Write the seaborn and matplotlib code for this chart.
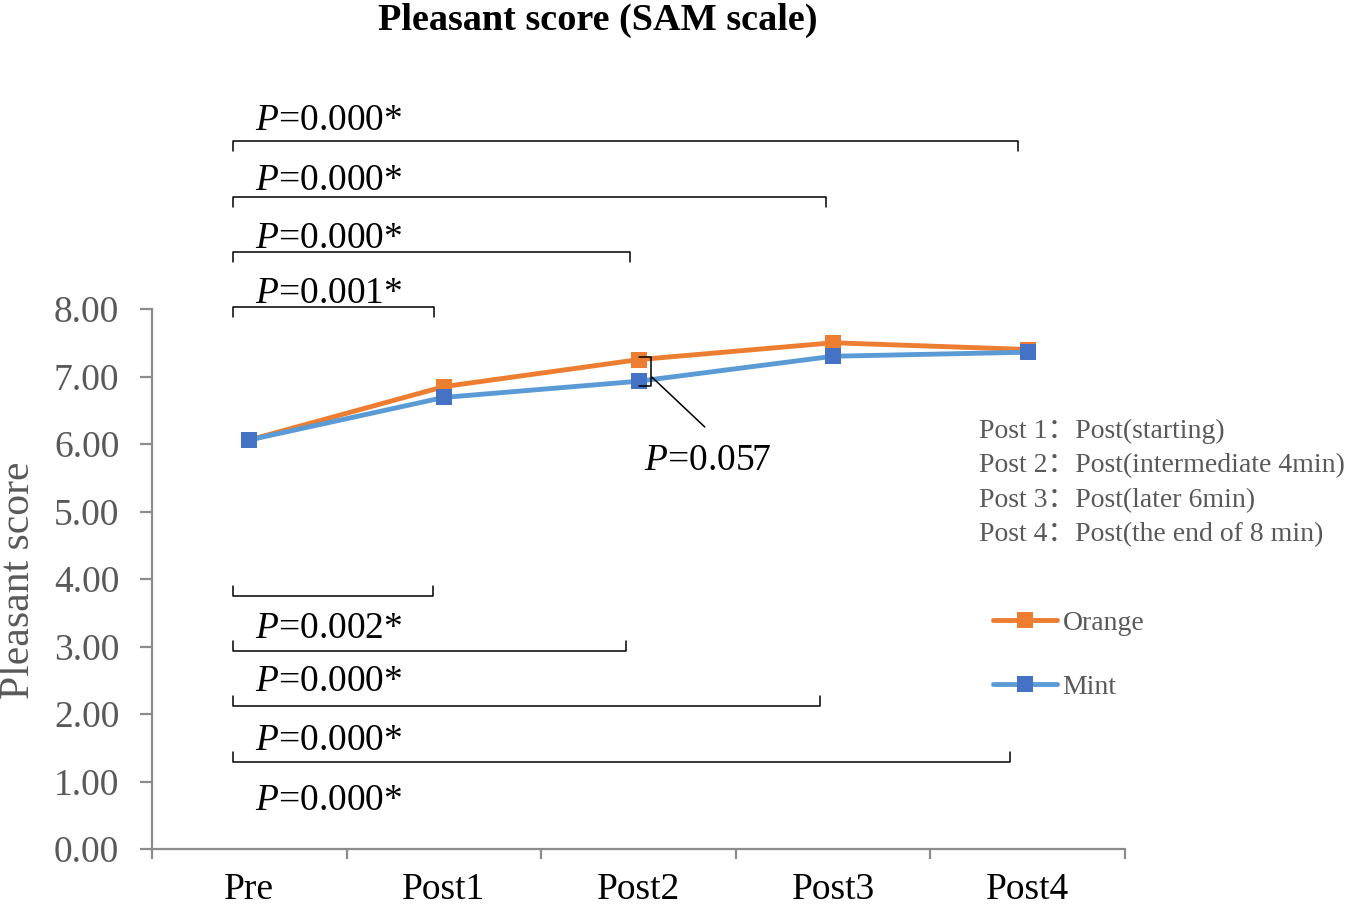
import numpy as np
import pandas as pd
import matplotlib
matplotlib.use("Agg")
import matplotlib.pyplot as plt
import seaborn as sns

# ---------------- data ----------------
time_points = ["Pre", "Post1", "Post2", "Post3", "Post4"]
orange_scores = [6.06, 6.85, 7.25, 7.50, 7.40]
mint_scores = [6.06, 6.69, 6.93, 7.30, 7.36]
y_ticks = [0, 1, 2, 3, 4, 5, 6, 7, 8]
y_tick_labels = ["0.00", "1.00", "2.00", "3.00", "4.00", "5.00", "6.00", "7.00", "8.00"]
orange_p_labels = ["0.001*", "0.000*", "0.000*", "0.000*"]   # Pre vs Post1..Post4 (upper)
mint_p_labels = ["0.002*", "0.000*", "0.000*", "0.000*"]     # Pre vs Post1..Post4 (lower)
between_p_label = "0.057"
note_labels = ["Post 1：Post(starting)",
               "Post 2：Post(intermediate 4min)",
               "Post 3：Post(later 6min)",
               "Post 4：Post(the end of 8 min)"]
title_text = "Pleasant score (SAM scale)"
y_label = "Pleasant score"

# ---------------- style ----------------
sns.set_style("white")
plt.rcParams["font.family"] = ["Liberation Serif", "Noto Sans CJK SC", "DejaVu Sans"]
plt.rcParams["mathtext.fontset"] = "custom"
plt.rcParams["mathtext.rm"] = "Liberation Serif"
plt.rcParams["mathtext.it"] = "Liberation Serif:italic"

ORANGE = "#ED7D31"
MINT_LINE = "#5B9BD5"
MINT_MARK = "#4472C4"
GRAY_AX = "#8C8C8C"
GRAY_TXT = "#595959"

W, H = 1355, 909
fig = plt.figure(figsize=(W / 100, H / 100), dpi=100)
ax_left, ax_right, ax_bottom = 152 / W, 1125 / W, 1 - 849 / H
ax = fig.add_axes([ax_left, ax_bottom, ax_right - ax_left, 1 - ax_bottom])

df = pd.DataFrame({
    "time": time_points * 2,
    "score": orange_scores + mint_scores,
    "group": ["Orange"] * len(time_points) + ["Mint"] * len(time_points),
})

styles = {
    "Orange": dict(color=ORANGE, markerfacecolor=ORANGE, markeredgecolor=ORANGE),
    "Mint": dict(color=MINT_LINE, markerfacecolor=MINT_MARK, markeredgecolor=MINT_MARK),
}
for g in ["Orange", "Mint"]:
    sns.lineplot(data=df[df["group"] == g], x="time", y="score", ax=ax,
                 label=g, marker="s", markersize=11.5, markeredgewidth=0,
                 linewidth=3.5, sort=False, estimator=None, **styles[g])

# ---------------- axes ----------------
px_per_unit = (849 - 309) / 8.0
ax.set_xlim(-0.5, 4.5)
ax.set_ylim(0, 849 / px_per_unit)
for s in ["top", "right"]:
    ax.spines[s].set_visible(False)
for s in ["left", "bottom"]:
    ax.spines[s].set_color(GRAY_AX)
    ax.spines[s].set_linewidth(1.6)
ax.spines["left"].set_bounds(0, 8)

ax.set_yticks(y_ticks)
ax.set_yticklabels(y_tick_labels)
ax.tick_params(axis="y", left=True, length=8.5, width=1.6, color=GRAY_AX, pad=15,
               labelsize=27, labelcolor=GRAY_TXT, direction="out")
ax.set_xticks(range(len(time_points)))
ax.set_xticklabels(time_points)
ax.set_xticks(np.arange(-0.5, len(time_points), 1.0), minor=True)
ax.tick_params(axis="x", which="major", bottom=True, length=0, pad=17,
               labelsize=27, labelcolor="black")
ax.tick_params(axis="x", which="minor", bottom=True, length=7.5, width=1.6,
               color=GRAY_AX, direction="out")
ax.set_xlabel("")
ax.set_ylabel(y_label, fontsize=30, color=GRAY_TXT, va="center")
ax.yaxis.set_label_coords(19 / W, 1 - 580 / H, transform=fig.transFigure)

# ---------------- significance brackets ----------------
def px2y(py):
    return (849 - py) / px_per_unit

def px2x(pxx):
    return (pxx - 249.5) / 194.6

upper_right_px = [434, 630, 826, 1018]
upper_line_px = [307, 252, 197, 141]
upper_text_px = [294, 239, 181, 121]
lower_right_px = [433, 626, 820, 1010]
lower_line_px = [596, 651, 706, 762]
lower_text_px = [629, 682, 741, 801]
left_px = 233
tick_h = 10 / px_per_unit
text_x = px2x(255)

for lab, rx, ly, ty in zip(orange_p_labels, upper_right_px, upper_line_px, upper_text_px):
    y = px2y(ly)
    ax.plot([px2x(left_px), px2x(left_px), px2x(rx), px2x(rx)],
            [y - tick_h, y, y, y - tick_h], color="black", lw=1.1, clip_on=False)
    ax.text(text_x, px2y(ty), r"$\mathit{P}$=" + lab, fontsize=27, ha="left",
            va="center", color="black")

for lab, rx, ly, ty in zip(mint_p_labels, lower_right_px, lower_line_px, lower_text_px):
    y = px2y(ly)
    ax.plot([px2x(left_px), px2x(left_px), px2x(rx), px2x(rx)],
            [y + tick_h, y, y, y + tick_h], color="black", lw=1.1, clip_on=False)
    ax.text(text_x, px2y(ty), r"$\mathit{P}$=" + lab, fontsize=27, ha="left",
            va="center", color="black")

# Post2 between-group bracket
bx0, bx1 = px2x(639), px2x(651)
ax.plot([bx0, bx1, bx1, bx0], [px2y(357), px2y(357), px2y(386), px2y(386)],
        color="black", lw=1.1)
ax.plot([px2x(652), px2x(705)], [px2y(377), px2y(427)], color="black", lw=1.1)
ax.text(px2x(644), px2y(461), r"$\mathit{P}$=" + between_p_label, fontsize=27,
        ha="left", va="center", color="black")

# ---------------- notes & legend ----------------
for i, note in enumerate(note_labels):
    fig.text(979 / W, 1 - (431 + 34.7 * i) / H, note, fontsize=20, color=GRAY_TXT,
             ha="left", va="center")

ax.legend(loc="center left", bbox_to_anchor=(993 / W, 1 - 655 / H),
          bbox_transform=fig.transFigure, frameon=False, fontsize=20,
          handlelength=2.3, handletextpad=0.2, labelspacing=1.4,
          borderpad=0, borderaxespad=0, labelcolor=GRAY_TXT)

fig.text(598 / W, 1 - 20 / H, title_text, fontsize=27.5, fontweight="bold",
         ha="center", va="center", color="black")

fig.savefig("out.png", dpi=100)
